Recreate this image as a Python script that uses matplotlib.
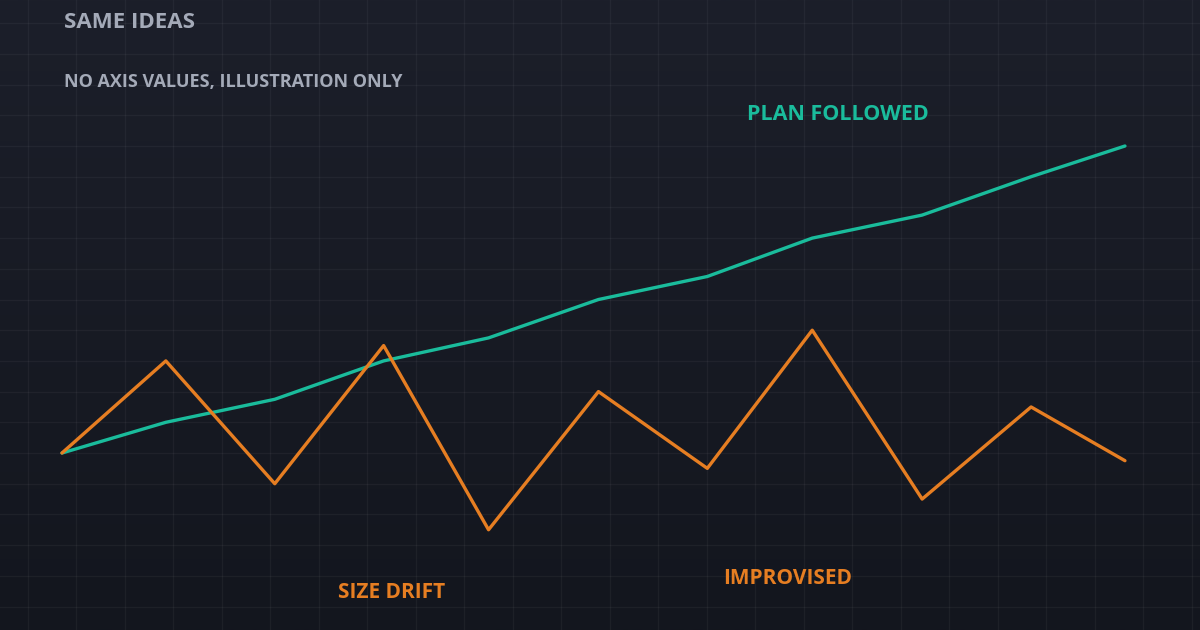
import numpy as np
import matplotlib
matplotlib.use("Agg")
import matplotlib.pyplot as plt

# step positions along x and values in abstract units (no real scale)
steps = [0, 0.977, 2.002, 3.026, 4.013, 5.047, 6.071, 7.058, 8.092, 9.117, 10]
plan_followed = [0, 1, 1.75, 3, 3.75, 5, 5.75, 7, 7.75, 9, 10]
improvised = [0, 3, -1, 3.5, -2.5, 2, -0.5, 4, -1.5, 1.5, -0.25]

teal = "#1abc9c"
orange = "#e67e22"
grey = "#a4aab8"

fig = plt.figure(figsize=(12, 6.3), dpi=100)
ax = fig.add_axes([0, 0, 1, 1])

xlim = (-0.583, 10.706)
ylim = (-5.765, 14.756)

# dark vertical gradient background, lighter at the top
grad = np.linspace(0, 1, 256).reshape(-1, 1)
cmap = matplotlib.colors.LinearSegmentedColormap.from_list("bg", ["#1c1f2a", "#13161e"])
ax.imshow(grad, aspect="auto", cmap=cmap, extent=[xlim[0], xlim[1], ylim[0], ylim[1]],
          origin="upper", zorder=0)

# faint grid
for gx in np.arange(-0.32, 11, 0.4562):
    ax.axvline(gx, color="#ffffff", alpha=0.045, lw=1, zorder=1)
for gy in range(-6, 16):
    ax.axhline(gy, color="#ffffff", alpha=0.045, lw=1, zorder=1)

ax.plot(steps, plan_followed, color=teal, lw=2.4, zorder=3, solid_capstyle="round")
ax.plot(steps, improvised, color=orange, lw=2.4, zorder=3, solid_capstyle="round")

ax.set_xlim(*xlim)
ax.set_ylim(*ylim)
ax.axis("off")

font = "Open Sans"
fig.text(64 / 1200, 1 - 23 / 630, "SAME IDEAS", color=grey, fontsize=16,
         fontweight="bold", family=font, va="center", ha="left")
fig.text(64 / 1200, 1 - 82 / 630, "NO AXIS VALUES, ILLUSTRATION ONLY", color=grey,
         fontsize=13, fontweight="bold", family=font, va="center", ha="left")
fig.text(747 / 1200, 1 - 114 / 630, "PLAN FOLLOWED", color=teal, fontsize=15.5,
         fontweight="bold", family=font, va="center", ha="left")
fig.text(338 / 1200, 1 - 592 / 630, "SIZE DRIFT", color=orange, fontsize=15,
         fontweight="bold", family=font, va="center", ha="left")
fig.text(723 / 1200, 1 - 578 / 630, "IMPROVISED", color=orange, fontsize=15,
         fontweight="bold", family=font, va="center", ha="left")

fig.savefig("out.png", dpi=100, facecolor="#171a23")
